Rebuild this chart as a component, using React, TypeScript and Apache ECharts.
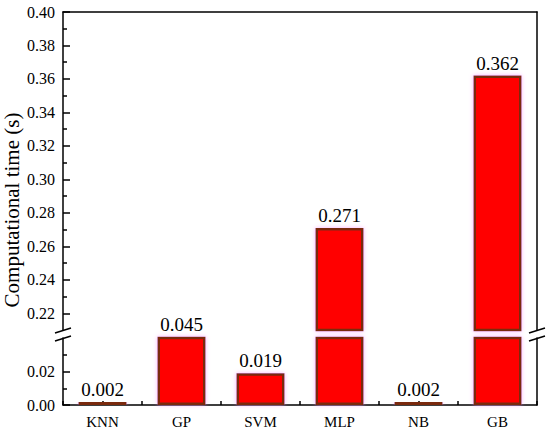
import { useEffect, useRef } from "react";
import * as echarts from "echarts";

const categories = ["KNN", "GP", "SVM", "MLP", "NB", "GB"];
const values = [0.002, 0.045, 0.019, 0.271, 0.002, 0.362];
const upperRange = [0.21, 0.4];
const lowerRange = [0, 0.04];
const upperMajorTicks = [0.22, 0.24, 0.26, 0.28, 0.3, 0.32, 0.34, 0.36, 0.38, 0.4];
const upperMinorTicks = [0.23, 0.25, 0.27, 0.29, 0.31, 0.33, 0.35, 0.37, 0.39];
const lowerMajorTicks = [0, 0.02];
const lowerMinorTicks = [0.01, 0.03];
const yTitle = "Computational time (s)";

const FONT = "Liberation Serif";
const LINE = { color: "#000", width: 1.5 };
const GRID_LEFT = 63;
const GRID_RIGHT = 13;
const UP_TOP = 12;
const UP_H = 318;
const LOW_TOP = 338;
const LOW_H = 67;

export default function App() {
  const ref = useRef<HTMLDivElement>(null);
  useEffect(() => {
    if (!ref.current) return;
    const chart = echarts.init(ref.current, undefined, { renderer: "svg" });
    const barStyle = {
      color: "#ff0000",
      borderColor: "#7a2a10",
      borderWidth: 2.5,
      shadowColor: "rgba(255,140,255,0.7)",
      shadowBlur: 4,
    };
    const labelStyle = {
      show: true,
      position: "top",
      distance: 3,
      color: "#000",
      fontFamily: FONT,
      fontSize: 19,
      formatter: (p: any) => values[p.dataIndex].toFixed(3),
    };
    const leftMain = (gridIndex: number, range: number[], ticks: number[]) => ({
      type: "value",
      gridIndex,
      position: "left",
      min: range[0],
      max: range[1],
      axisLine: { show: true, onZero: false, lineStyle: LINE },
      axisTick: { show: true, inside: true, length: 7, customValues: ticks, lineStyle: LINE },
      axisLabel: {
        customValues: ticks,
        formatter: (v: number) => v.toFixed(2),
        color: "#000",
        fontFamily: FONT,
        fontSize: 16,
        margin: 8,
      },
      splitLine: { show: false },
    });
    const leftMinor = (gridIndex: number, range: number[], ticks: number[]) => ({
      type: "value",
      gridIndex,
      position: "left",
      min: range[0],
      max: range[1],
      axisLine: { show: false },
      axisTick: { show: true, inside: true, length: 4, customValues: ticks, lineStyle: LINE },
      axisLabel: { show: false },
      splitLine: { show: false },
    });
    const rightLine = (gridIndex: number, range: number[]) => ({
      type: "value",
      gridIndex,
      position: "right",
      min: range[0],
      max: range[1],
      axisLine: { show: true, onZero: false, lineStyle: LINE },
      axisTick: { show: false },
      axisLabel: { show: false },
      splitLine: { show: false },
    });
    const breakLines = (x: number) => [
      { type: "line", shape: { x1: x - 8, y1: 333, x2: x + 8, y2: 328 }, style: { stroke: "#000", lineWidth: 1.5 } },
      { type: "line", shape: { x1: x - 8, y1: 341, x2: x + 8, y2: 336 }, style: { stroke: "#000", lineWidth: 1.5 } },
    ];
    const option: any = {
      animation: false,
      backgroundColor: "#fff",
      textStyle: { fontFamily: FONT },
      grid: [
        { left: GRID_LEFT, right: GRID_RIGHT, top: UP_TOP, height: UP_H },
        { left: GRID_LEFT, right: GRID_RIGHT, top: LOW_TOP, height: LOW_H },
      ],
      xAxis: [
        {
          type: "category",
          gridIndex: 0,
          data: categories,
          position: "top",
          axisLine: { show: true, onZero: false, lineStyle: LINE },
          axisTick: { show: false },
          axisLabel: { show: false },
        },
        {
          type: "category",
          gridIndex: 1,
          data: categories,
          position: "bottom",
          axisLine: { show: true, onZero: false, lineStyle: LINE },
          axisTick: { show: true, inside: true, length: 4, alignWithLabel: false, lineStyle: LINE },
          axisLabel: { color: "#000", fontFamily: FONT, fontSize: 15, margin: 9 },
        },
        {
          type: "category",
          gridIndex: 1,
          data: categories,
          position: "bottom",
          axisLine: { show: false, onZero: false },
          axisTick: { show: true, inside: true, length: 4, alignWithLabel: true, lineStyle: LINE },
          axisLabel: { show: false },
        },
      ],
      yAxis: [
        leftMain(0, upperRange, upperMajorTicks),
        leftMinor(0, upperRange, upperMinorTicks),
        rightLine(0, upperRange),
        leftMain(1, lowerRange, lowerMajorTicks),
        leftMinor(1, lowerRange, lowerMinorTicks),
        rightLine(1, lowerRange),
      ],
      series: [
        {
          type: "bar",
          xAxisIndex: 0,
          yAxisIndex: 0,
          barWidth: 48,
          clip: true,
          data: values.map((v) => (v > upperRange[0] ? v : "-")),
          itemStyle: barStyle,
          label: labelStyle,
        },
        {
          type: "bar",
          xAxisIndex: 1,
          yAxisIndex: 3,
          barWidth: 48,
          clip: true,
          data: values.map((v) => ({ value: v, label: { show: v <= upperRange[0] } })),
          itemStyle: barStyle,
          label: labelStyle,
        },
      ],
      graphic: [
        ...breakLines(GRID_LEFT),
        ...breakLines(550 - GRID_RIGHT),
        {
          type: "text",
          x: 12,
          y: 210,
          rotation: Math.PI / 2,
          style: {
            text: yTitle,
            fontFamily: FONT,
            fontSize: 21,
            fill: "#000",
            align: "center",
            verticalAlign: "middle",
          },
        },
      ],
    };
    chart.setOption(option);
    return () => chart.dispose();
  }, []);
  return (
    <div
      ref={ref}
      style={{ position: "fixed", left: 0, top: 0, width: 550, height: 433, background: "#fff" }}
    />
  );
}
